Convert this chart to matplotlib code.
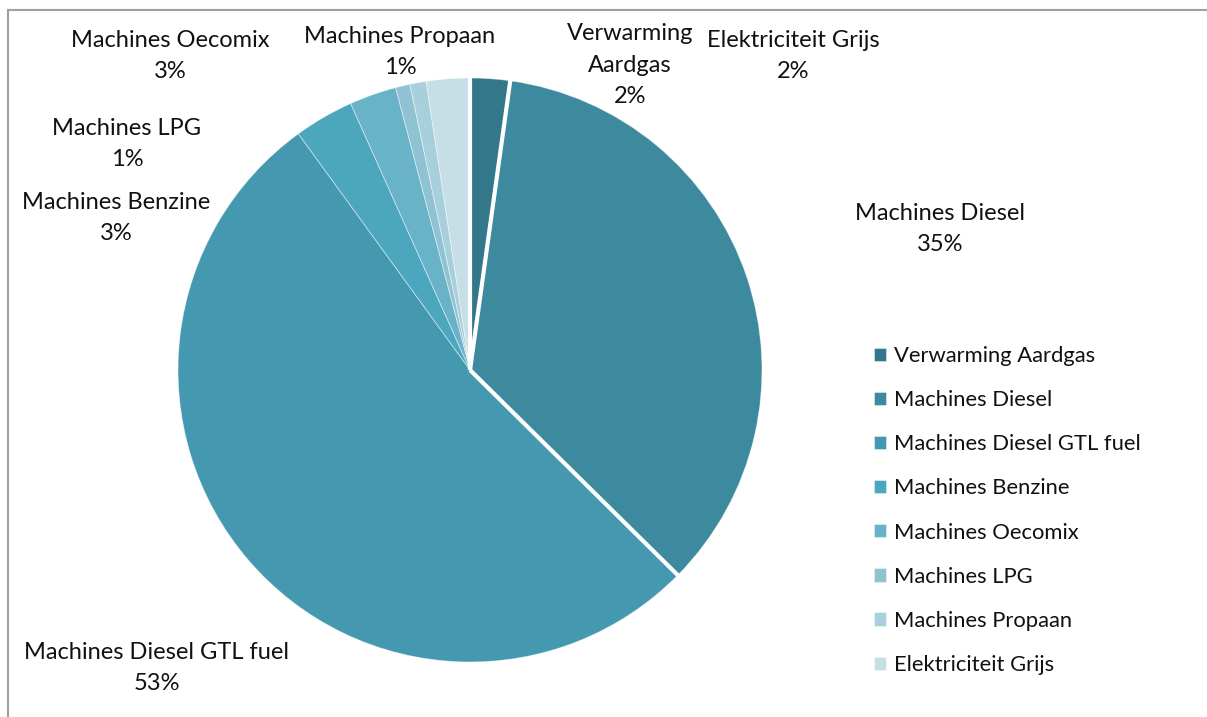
import matplotlib.pyplot as plt
import numpy as np

# data
labels = ["Verwarming Aardgas", "Machines Diesel", "Machines Diesel GTL fuel",
          "Machines Benzine", "Machines Oecomix", "Machines LPG",
          "Machines Propaan", "Elektriciteit Grijs"]
values = [2.2, 35.2, 52.6, 3.3, 2.6, 0.8, 0.9, 2.4]
colors = ["#33788A", "#3D8A9E", "#4499B0", "#4BA6BE",
          "#68B3C8", "#8FC2D2", "#A8D0DC", "#C6DEE5"]

# label text (line breaks like the original) and where they sit (pixels)
label_text = ["Verwarming\nAardgas", "Machines Diesel", "Machines Diesel GTL fuel",
              "Machines Benzine", "Machines Oecomix", "Machines LPG",
              "Machines Propaan", "Elektriciteit Grijs"]
label_pos = [(630, 65), (940, 229), (157, 668), (116, 218),
             (170, 56), (127, 144), (400, 52), (793, 56)]

plt.rcParams['font.family'] = ['Lato', 'DejaVu Sans']
W, H = 1207, 717
fig = plt.figure(figsize=(W / 100, H / 100), dpi=100)
ax = fig.add_axes([0, 0, 1, 1])

cx, cy, r = 470, H - 370, 292
wedges, _ = ax.pie(values, colors=colors, startangle=90, counterclock=False,
                   center=(cx, cy), radius=r, frame=True,
                   wedgeprops=dict(edgecolor=(1, 1, 1, 0.5), linewidth=0.6))
ax.set_xlim(0, W)
ax.set_ylim(0, H)
ax.set_aspect('equal')
ax.axis('off')

# white separators after the three big slices
for w in wedges[:3]:
    t = np.deg2rad(w.theta2)
    ax.plot([cx, cx + r * 1.01 * np.cos(t)], [cy, cy + r * 1.01 * np.sin(t)],
            color='white', lw=3, solid_capstyle='butt', zorder=5)

for txt, v, (x, y) in zip(label_text, values, label_pos):
    ax.text(x, H - y, f"{txt}\n{round(v)}%", ha='center', va='center',
            fontsize=17, linespacing=1.6, color='#111111')

leg = ax.legend(wedges, labels, loc='upper left', bbox_to_anchor=(0.708, 0.545),
                bbox_transform=fig.transFigure, frameon=False, fontsize=15.8,
                handlelength=0.55, handleheight=0.55, handletextpad=0.35,
                labelspacing=1.1)
for t in leg.get_texts():
    t.set_color('#111111')

# chart frame (top and left edges visible)
ax.plot([8, W], [H - 10, H - 10], color='#A0A0A0', lw=1.5, clip_on=False)
ax.plot([8, 8], [H - 10, 0], color='#A0A0A0', lw=1.5, clip_on=False)

fig.savefig("out.png", dpi=100)
